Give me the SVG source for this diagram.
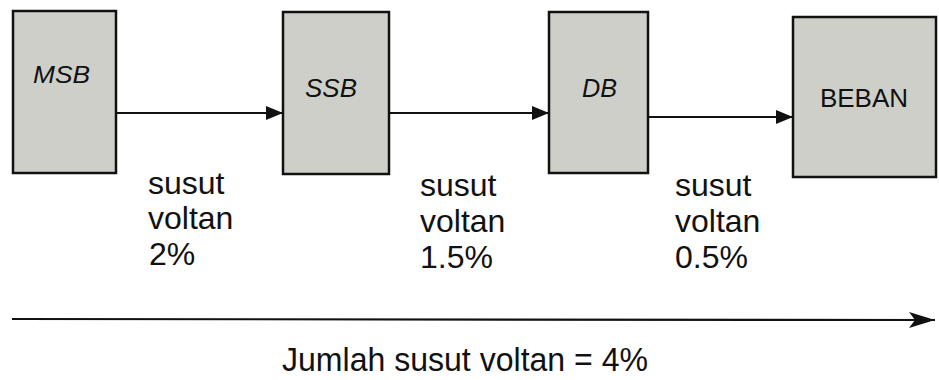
<svg xmlns="http://www.w3.org/2000/svg" width="939" height="380" viewBox="0 0 939 380">
<style>
.box{fill:#cfcfca;stroke:#111;stroke-width:2.5}
.bl{font-family:"Liberation Sans",Arial,sans-serif;fill:#111}
.it{font-style:italic}
.lbl{font-family:"Liberation Sans",Arial,sans-serif;font-size:32px;fill:#111}
.con{stroke:#111;stroke-width:2.2;fill:none}
</style>
<defs>
<marker id="ah" markerWidth="18" markerHeight="16" refX="17" refY="8" orient="auto" markerUnits="userSpaceOnUse">
<path d="M0,1 L17,8 L0,15 Z" fill="#111"/>
</marker>
<marker id="ah2" markerWidth="28" markerHeight="20" refX="26" refY="10" orient="auto" markerUnits="userSpaceOnUse">
<path d="M0,2 L26,10 L0,18 L6,10 Z" fill="#111"/>
</marker>
</defs>
<g id="msb"><rect class="box" x="13" y="11" width="103" height="162"/><text class="bl it" x="33" y="83" font-size="23" textLength="57" lengthAdjust="spacingAndGlyphs">MSB</text></g>
<g id="ssb"><rect class="box" x="283" y="12" width="106" height="162"/><text class="bl it" x="305" y="97" font-size="25" textLength="52" lengthAdjust="spacingAndGlyphs">SSB</text></g>
<g id="db"><rect class="box" x="549" y="12" width="99" height="161"/><text class="bl it" x="582" y="97" font-size="25" textLength="35" lengthAdjust="spacingAndGlyphs">DB</text></g>
<g id="beban"><rect class="box" x="793" y="17" width="143" height="160"/><text class="bl" x="864" y="107" font-size="26" text-anchor="middle">BEBAN</text></g>
<g id="connectors">
<line class="con" x1="116" y1="113" x2="283" y2="113" marker-end="url(#ah)"/>
<line class="con" x1="389" y1="113" x2="549" y2="113" marker-end="url(#ah)"/>
<line class="con" x1="648" y1="117" x2="793" y2="117" marker-end="url(#ah)"/>
<line class="con" x1="12" y1="319" x2="935" y2="320" marker-end="url(#ah2)"/>
</g>
<g id="labels">
<text class="lbl" x="148" y="194">susut</text>
<text class="lbl" x="148" y="229">voltan</text>
<text class="lbl" x="149" y="265">2%</text>
<text class="lbl" x="420" y="196">susut</text>
<text class="lbl" x="420" y="232">voltan</text>
<text class="lbl" x="420" y="268">1.5%</text>
<text class="lbl" x="675" y="196">susut</text>
<text class="lbl" x="675" y="232">voltan</text>
<text class="lbl" x="675" y="268">0.5%</text>
<text class="bl" x="282" y="371" font-size="34" textLength="366" lengthAdjust="spacingAndGlyphs">Jumlah susut voltan = 4%</text>
</g>
</svg>
